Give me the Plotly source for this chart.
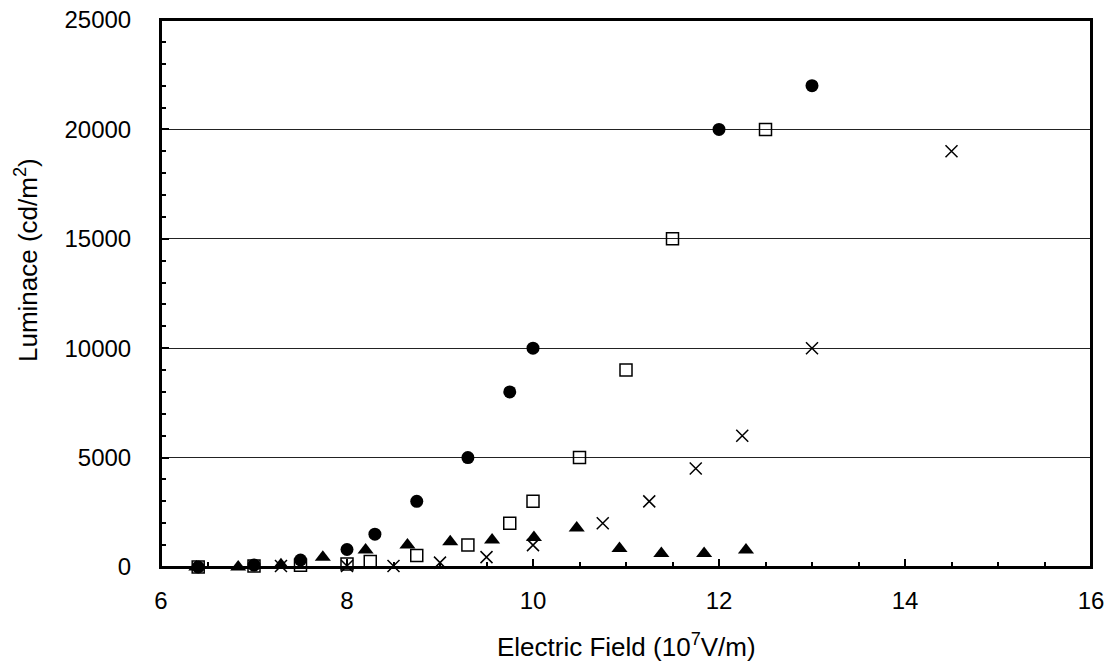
import plotly.graph_objects as go

# Data
circle_x = [6.4, 7.0, 7.5, 8.0, 8.3, 8.75, 9.3, 9.75, 10.0, 12.0, 13.0]
circle_y = [0, 90, 320, 800, 1500, 3000, 5000, 8000, 10000, 20000, 22000]

square_x = [6.4, 7.0, 7.5, 8.0, 8.25, 8.75, 9.3, 9.75, 10.0, 10.5, 11.0, 11.5, 12.5]
square_y = [0, 50, 80, 140, 250, 520, 1000, 2000, 3000, 5000, 9000, 15000, 20000]

triangle_x = [6.38, 6.83, 7.29, 7.74, 8.2, 8.65, 9.11, 9.56, 10.01, 10.47, 10.93, 11.38, 11.84, 12.29]
triangle_y = [0, 0, 100, 450, 780, 1000, 1150, 1230, 1350, 1780, 850, 620, 620, 780]

cross_x = [7.29, 8.0, 8.5, 9.0, 9.5, 10.0, 10.75, 11.25, 11.75, 12.25, 13.0, 14.5]
cross_y = [50, 50, 50, 200, 450, 1000, 2000, 3000, 4500, 6000, 10000, 19000]

x_ticks = [6, 8, 10, 12, 14, 16]
y_ticks = [0, 5000, 10000, 15000, 20000, 25000]

x_title = "Electric Field (10<sup>7</sup>V/m)"
y_title = "Luminace (cd/m<sup>2</sup>)"

FONT = "Liberation Sans, Arial, sans-serif"
W, H = 1113, 668
ML, MR, MT, MB = 161, 22, 20, 101

fig = go.Figure()
fig.add_trace(go.Scatter(x=triangle_x, y=triangle_y, mode="markers",
                         marker=dict(symbol="triangle-up", size=14, color="black"),
                         showlegend=False, cliponaxis=False))
fig.add_trace(go.Scatter(x=cross_x, y=cross_y, mode="markers",
                         marker=dict(symbol="x-thin", size=12, color="black",
                                     line=dict(color="black", width=1.5)),
                         showlegend=False, cliponaxis=False))
fig.add_trace(go.Scatter(x=square_x, y=square_y, mode="markers",
                         marker=dict(symbol="square-open", size=12, color="black",
                                     line=dict(color="black", width=1.5)),
                         showlegend=False, cliponaxis=False))
fig.add_trace(go.Scatter(x=circle_x, y=circle_y, mode="markers",
                         marker=dict(symbol="circle", size=13, color="black"),
                         showlegend=False, cliponaxis=False))

plot_h = H - MT - MB
plot_w = W - ML - MR

# target page positions for titles
xt_y_page = 645
yt_x_page, yt_y_page = 26, 260

fig.update_layout(
    width=W, height=H,
    margin=dict(l=ML, r=MR, t=MT, b=MB),
    paper_bgcolor="white", plot_bgcolor="white",
    font=dict(family=FONT, color="black", size=22),
    shapes=[dict(type="rect", xref="paper", yref="paper", x0=0, x1=1, y0=0, y1=1,
                 line=dict(color="black", width=2), fillcolor="rgba(0,0,0,0)", layer="above")],
    annotations=[
        dict(text=x_title, xref="paper", yref="paper",
             x=0.5, y=-(xt_y_page - (H - MB)) / plot_h,
             xanchor="center", yanchor="middle",
             showarrow=False, font=dict(size=26, family=FONT)),
        dict(text=y_title, xref="paper", yref="paper",
             x=-(ML - yt_x_page) / plot_w,
             y=(H - MB - yt_y_page) / plot_h,
             xanchor="center", yanchor="middle",
             textangle=-90, showarrow=False, font=dict(size=26, family=FONT)),
    ],
)
fig.update_xaxes(
    range=[6, 16], tickvals=x_ticks, ticktext=[str(v) for v in x_ticks],
    automargin=False,
    showgrid=False, zeroline=False,
    showline=True, linecolor="black", linewidth=2, mirror=True,
    ticks="inside", ticklen=8, tickwidth=1.5, tickcolor="black",
    minor=dict(dtick=0.5, ticks="inside", ticklen=5, tickwidth=1.5, tickcolor="black", showgrid=False),
    tickfont=dict(size=24, family=FONT), ticklabelstandoff=11,
    ticklabeloverflow="allow",
)
fig.update_yaxes(
    range=[0, 25000], tickvals=y_ticks, ticktext=[str(v) for v in y_ticks],
    automargin=False,
    showgrid=True, gridcolor="#222222", gridwidth=1, zeroline=False,
    showline=True, linecolor="black", linewidth=2, mirror=True,
    ticks="inside", ticklen=8, tickwidth=1.5, tickcolor="black",
    minor=dict(dtick=1000, ticks="inside", ticklen=5, tickwidth=1.5, tickcolor="black", showgrid=False),
    tickfont=dict(size=24, family=FONT), ticklabelstandoff=23,
    ticklabeloverflow="allow",
)

fig.write_html("out.html", config={"displayModeBar": False},
               post_script="document.body.style.margin='0';")
